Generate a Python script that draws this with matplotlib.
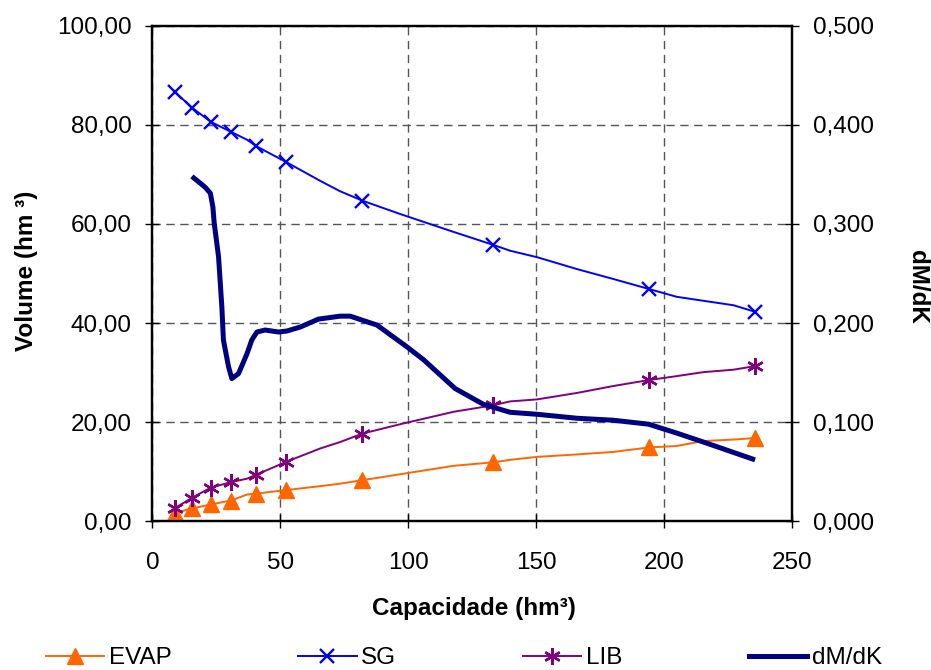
import matplotlib
matplotlib.use("Agg")
import matplotlib.pyplot as plt
from matplotlib.ticker import FuncFormatter
from matplotlib.lines import Line2D

plt.rcParams['font.family'] = ['Liberation Sans', 'DejaVu Sans']

# ---------------- data ----------------
capacidade = [8.6, 15.6, 22.8, 30.6, 36.9, 40.5, 52.2, 65.5, 73.3, 82.0, 96.8,
              117.6, 133.0, 139.7, 150.2, 165.8, 180.0, 193.8, 204.8, 215.2,
              227.0, 235.2]
marker_idx = [0, 1, 2, 3, 5, 6, 9, 12, 17, 21]

evap = [1.7, 2.6, 3.4, 4.2, 5.4, 5.6, 6.3, 7.1, 7.6, 8.3, 9.5,
        11.2, 11.9, 12.4, 13.0, 13.5, 14.0, 14.9, 15.2, 16.2,
        16.5, 16.8]
sg = [86.7, 83.4, 80.6, 78.6, 77.0, 75.7, 72.5, 68.7, 66.6, 64.7, 62.0,
      58.4, 55.8, 54.6, 53.3, 50.9, 48.9, 46.9, 45.3, 44.5,
      43.6, 42.3]
lib = [2.6, 4.8, 6.8, 7.9, 8.6, 9.4, 12.0, 14.7, 16.0, 17.7, 19.6,
       22.1, 23.4, 24.2, 24.6, 25.9, 27.3, 28.5, 29.3, 30.1,
       30.6, 31.3]

dmdk_x = [15.4, 20.6, 22.6, 23.6, 24.1, 25.8, 27.1, 27.7, 29.7, 31.0, 33.6,
          36.9, 38.8, 40.8, 44.0, 49.2, 52.5, 57.7, 64.8, 73.3, 77.2, 87.7,
          99.4, 105.9, 118.2, 129.3, 139.7, 150.2, 165.8, 180.0, 193.8,
          204.8, 215.2, 235.4]
dmdk = [0.348, 0.337, 0.331, 0.317, 0.301, 0.267, 0.216, 0.183, 0.156, 0.144,
        0.149, 0.169, 0.183, 0.191, 0.193, 0.191, 0.192, 0.196, 0.204, 0.207,
        0.207, 0.198, 0.176, 0.163, 0.134, 0.118, 0.110, 0.108, 0.104, 0.102,
        0.098, 0.089, 0.080, 0.062]

left_ticks = [0, 20, 40, 60, 80, 100]
right_ticks = [0.0, 0.1, 0.2, 0.3, 0.4, 0.5]
x_ticks = [0, 50, 100, 150, 200, 250]

# ---------------- figure ----------------
fig = plt.figure(figsize=(9.31, 6.70), dpi=100)
ax = fig.add_axes([0.1638, 0.2219, 0.6874, 0.7397])
ax2 = ax.twinx()

c_evap = '#FF6600'
c_sg = '#0000FF'
c_lib = '#800080'
c_dm = '#000080'

ax.plot(capacidade, evap, color=c_evap, lw=1.4, marker='^', ms=11,
        markevery=marker_idx, mec=c_evap, mfc=c_evap, zorder=3)
ax.plot(capacidade, sg, color=c_sg, lw=1.4, marker='x', ms=9.5, mew=1.7,
        markevery=marker_idx, zorder=3)
ax.plot(capacidade, lib, color=c_lib, lw=1.4, marker=(6, 2, 0), ms=12, mew=1.7,
        markevery=marker_idx, zorder=3)
ax2.plot(dmdk_x, dmdk, color=c_dm, lw=3.6, solid_capstyle='butt', zorder=3)

ax.set_xlim(0, 250)
ax.set_ylim(0, 100)
ax2.set_ylim(0, 0.5)
ax.set_xticks(x_ticks)
ax.set_yticks(left_ticks)
ax2.set_yticks(right_ticks)

ax.yaxis.set_major_formatter(FuncFormatter(lambda v, p: f"{v:.2f}".replace('.', ',')))
ax2.yaxis.set_major_formatter(FuncFormatter(lambda v, p: f"{v:.3f}".replace('.', ',')))
ax.xaxis.set_major_formatter(FuncFormatter(lambda v, p: f"{int(v)}"))

ax.grid(True, which='major', color='#555555', linestyle=(0, (6, 4)), lw=1.0)
ax.set_axisbelow(True)

for a in (ax, ax2):
    for s in a.spines.values():
        s.set_linewidth(1.6)
        s.set_color('black')
ax.tick_params(axis='y', direction='inout', length=10, width=1.0,
               labelsize=17.5, pad=10)
ax.tick_params(axis='x', direction='inout', length=10, width=1.0,
               labelsize=17.5, pad=17)
ax2.tick_params(axis='y', direction='inout', length=10, width=1.0,
                labelsize=17.5, pad=10)

fig.text(27 / 931, 1 - 271 / 670, 'Volume (hm ³)', rotation=90, ha='center',
         va='center', fontsize=17.5, fontweight='bold')
fig.text(918 / 931, 1 - 287 / 670, 'dM/dK', rotation=270, ha='center',
         va='center', fontsize=17.5, fontweight='bold')
fig.text(474 / 931, 1 - 609 / 670, 'Capacidade (hm³)', ha='center',
         va='center', fontsize=17.5, fontweight='bold')

handles = [
    Line2D([], [], color=c_evap, lw=1.4, marker='^', ms=11, mfc=c_evap, mec=c_evap),
    Line2D([], [], color=c_sg, lw=1.4, marker='x', ms=9.5, mew=1.7),
    Line2D([], [], color=c_lib, lw=1.4, marker=(6, 2, 0), ms=12, mew=1.7),
    Line2D([], [], color=c_dm, lw=3.6),
]
fig.legend(handles, ['EVAP', 'SG', 'LIB', 'dM/dK'], loc='center',
           bbox_to_anchor=(464 / 931, 1 - 658 / 670), ncol=4, frameon=False,
           fontsize=17.5, handlelength=2.4, handletextpad=0.2,
           columnspacing=5.2, borderpad=0)

fig.savefig('out.png', dpi=100)
